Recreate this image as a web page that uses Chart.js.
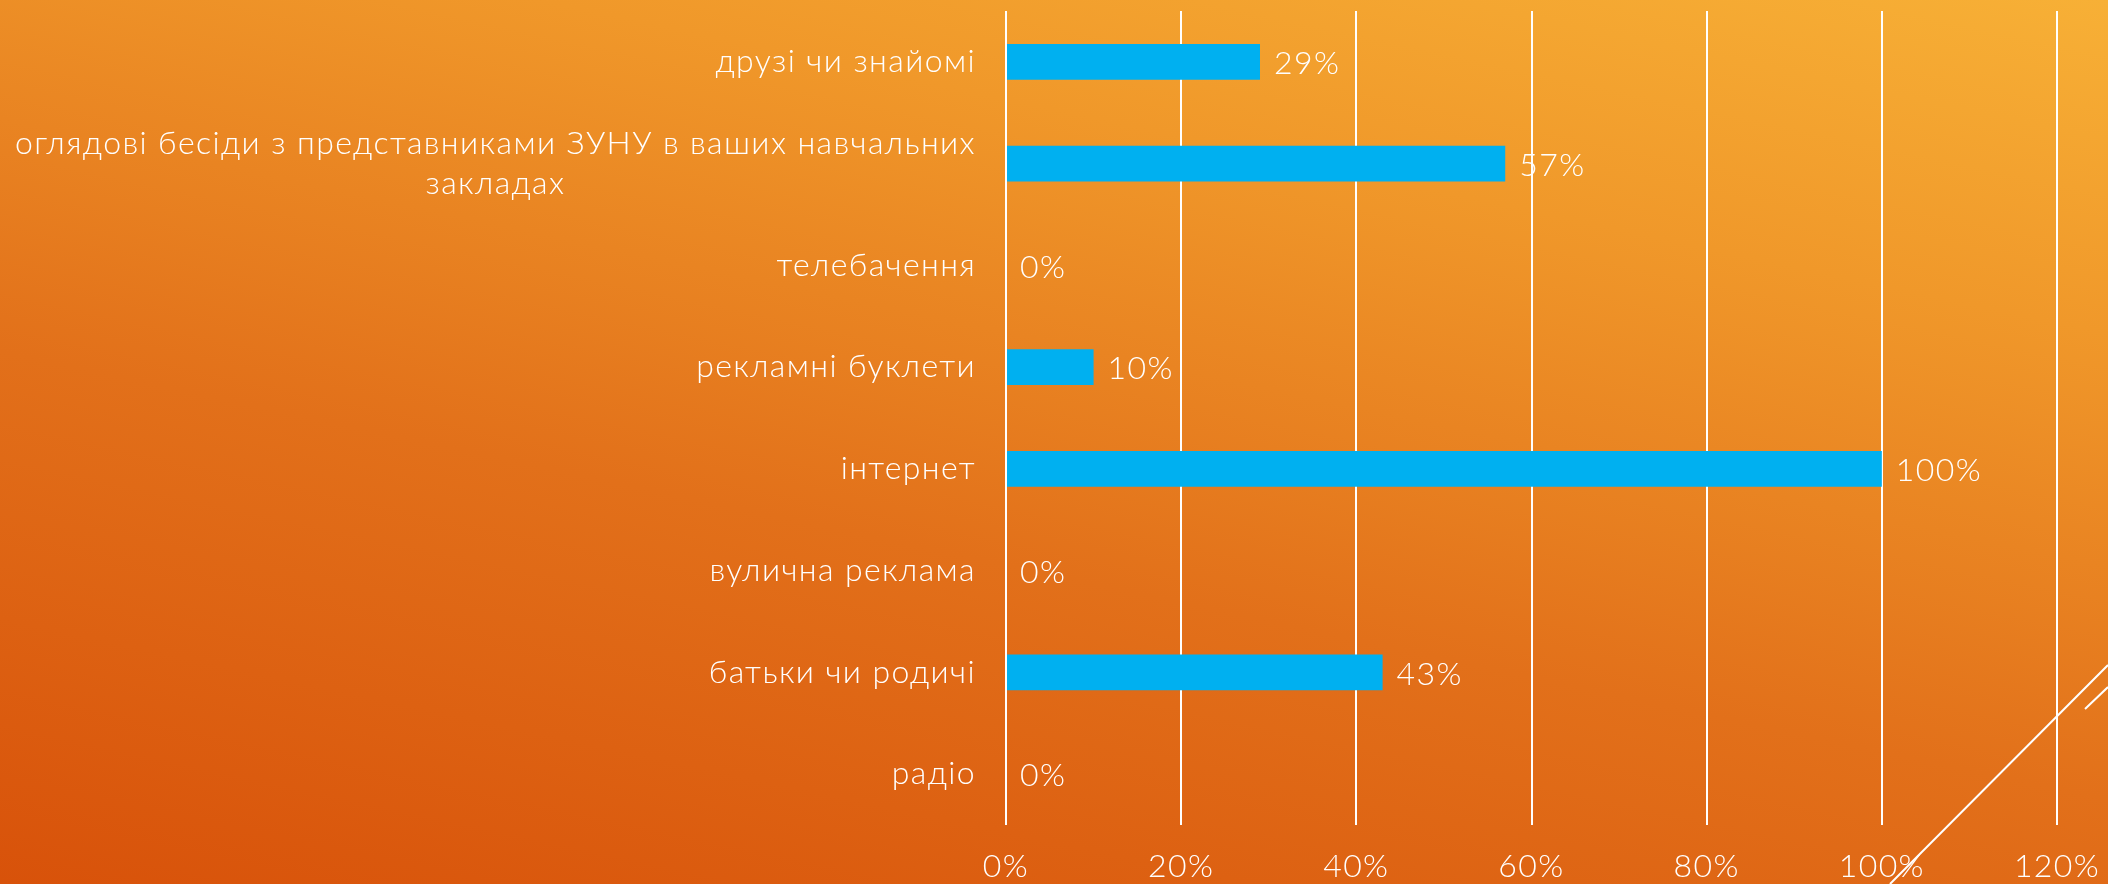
<!DOCTYPE html>
<html>
<head>
<meta charset="utf-8">
<script src="https://cdn.jsdelivr.net/npm/chart.js@4.4.1/dist/chart.umd.min.js"></script>
<style>
html, body { margin: 0; padding: 0; width: 2108px; height: 884px; overflow: hidden; }
body { background: linear-gradient(12deg, #D8520A 0%, #E2701A 40%, #F0982A 75%, #F7B036 100%); }
#wrap { position: relative; width: 2108px; height: 884px; }
</style>
</head>
<body>
<div id="wrap"><canvas id="myChart"></canvas></div>
<script>
// data
let categories = [
    "друзі чи знайомі",
    ["оглядові бесіди з представниками ЗУНУ в ваших навчальних", "закладах"],
    "телебачення",
    "рекламні буклети",
    "інтернет",
    "вулична реклама",
    "батьки чи родичі",
    "радіо"
];
let values = [29, 57, 0, 10, 100, 0, 43, 0];
let axisMax = 120;
let axisStep = 20;

let fontFamily = "Lato, 'Open Sans', sans-serif";
let fontSize = 32;
let spacing = '1.4px';
let textColor = "#ffffff";

// wider letters, closer to the original slide font
const letterSpacing = {
    id: 'letterSpacing',
    beforeDraw(chart) {
        chart.ctx.letterSpacing = spacing;
    }
};

// category labels drawn by hand so the wrapped one is centred like the original
const categoryLabels = {
    id: 'categoryLabels',
    afterDraw(chart) {
        let ctx = chart.ctx;
        let yScale = chart.scales.y;
        let right = chart.chartArea.left - 30;
        ctx.save();
        ctx.letterSpacing = spacing;
        ctx.fillStyle = textColor;
        ctx.font = '300 ' + fontSize + 'px ' + fontFamily;
        ctx.textBaseline = 'middle';
        ctx.textAlign = 'center';
        for (let i = 0; i < categories.length; i++) {
            let lines = Array.isArray(categories[i]) ? categories[i] : [categories[i]];
            let w = Math.max(...lines.map(l => ctx.measureText(l).width));
            let cx = right - w / 2;
            let cy = yScale.getPixelForTick(i);
            for (let j = 0; j < lines.length; j++) {
                ctx.fillText(lines[j], cx, cy + (j - (lines.length - 1) / 2) * 40);
            }
        }
        ctx.restore();
    }
};

// value labels at the end of each bar
const valueLabels = {
    id: 'valueLabels',
    afterDatasetsDraw(chart) {
        let ctx = chart.ctx;
        let bars = chart.getDatasetMeta(0).data;
        ctx.save();
        ctx.letterSpacing = spacing;
        ctx.fillStyle = textColor;
        ctx.font = '300 ' + fontSize + 'px ' + fontFamily;
        ctx.textBaseline = 'middle';
        ctx.textAlign = 'left';
        bars.forEach((bar, i) => {
            ctx.fillText(values[i] + '%', bar.x + 14, bar.y + 2);
        });
        ctx.restore();
    }
};

// the two thin slide decoration lines in the bottom right corner
const decoLines = {
    id: 'decoLines',
    afterDraw(chart) {
        let ctx = chart.ctx;
        ctx.save();
        ctx.strokeStyle = '#ffffff';
        ctx.lineWidth = 2;
        ctx.beginPath();
        ctx.moveTo(1890, 884);
        ctx.lineTo(2108, 665);
        ctx.moveTo(2085, 709);
        ctx.lineTo(2108, 687);
        ctx.stroke();
        ctx.restore();
    }
};

const ctx = document.getElementById('myChart');

let myChart = new Chart(ctx, {
    type: 'bar',
    data: {
        labels: categories,
        datasets: [{
            data: values,
            backgroundColor: '#00B0F0',
            borderWidth: 0,
            barPercentage: 0.35,
            categoryPercentage: 1
        }]
    },
    options: {
        indexAxis: 'y',
        responsive: true,
        maintainAspectRatio: false,
        animation: false,
        layout: {
            padding: { top: 11, right: 51, left: 0, bottom: 0 }
        },
        plugins: {
            legend: { display: false },
            tooltip: { enabled: false }
        },
        scales: {
            x: {
                min: 0,
                max: axisMax,
                afterFit: s => {
                    s.height = 59;
                    // keep the 120% line where the slide has it
                    s.paddingLeft = 0;
                    s.paddingRight = 0;
                },
                ticks: {
                    stepSize: axisStep,
                    color: textColor,
                    padding: 22,
                    font: { family: fontFamily, size: fontSize, weight: 300 },
                    callback: v => v + '%'
                },
                grid: { color: '#ffffff', lineWidth: 2, drawTicks: false },
                border: { display: false }
            },
            y: {
                afterFit: s => { s.width = 1006; },
                ticks: { display: false },
                grid: { display: false },
                border: { display: false }
            }
        }
    },
    plugins: [letterSpacing, categoryLabels, valueLabels, decoLines]
});
</script>
</body>
</html>
